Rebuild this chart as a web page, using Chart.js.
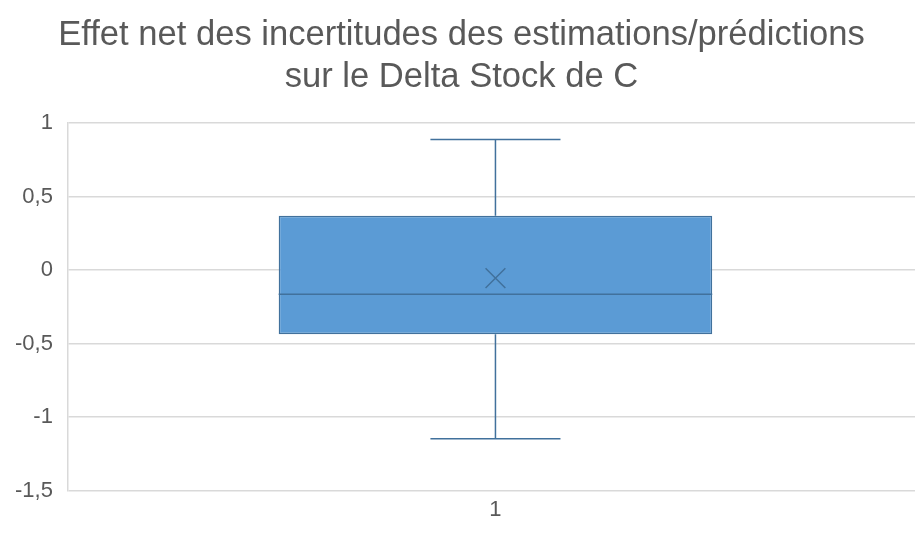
<!DOCTYPE html>
<html>
<head>
<meta charset="utf-8">
<script src="https://cdn.jsdelivr.net/npm/chart.js@4.4.1/dist/chart.umd.min.js"></script>
<style>
  html, body { margin: 0; padding: 0; background: #fff; overflow: hidden; }
  #wrap { width: 923px; height: 534px; }
</style>
</head>
<body>
<div id="wrap"><canvas id="chartBox"></canvas></div>
<script>
// box plot values
const categories = ['1'];
const whiskerMin = [-1.147];
const q1 = [-0.437];
const median = [-0.164];
const q3 = [0.369];
const whiskerMax = [0.887];
const mean = [-0.055];
const yTicks = [-1.5, -1, -0.5, 0, 0.5, 1];

const lineColor = '#41719C';
const boxFill = '#5B9BD5';

// whiskers behind the box, median on top of it
const boxExtras = {
  id: 'boxExtras',
  beforeDatasetsDraw(chart) {
    const { ctx, scales: { y } } = chart;
    const meta = chart.getDatasetMeta(1);
    ctx.save();
    ctx.strokeStyle = lineColor;
    ctx.lineWidth = 1.5;
    meta.data.forEach((bar, i) => {
      const cx = bar.x;
      const capHalf = bar.width * 0.15;
      const yMin = y.getPixelForValue(whiskerMin[i]);
      const yMax = y.getPixelForValue(whiskerMax[i]);
      ctx.beginPath();
      ctx.moveTo(cx, yMin); ctx.lineTo(cx, y.getPixelForValue(q1[i]));
      ctx.moveTo(cx, yMax); ctx.lineTo(cx, y.getPixelForValue(q3[i]));
      ctx.moveTo(cx - capHalf, yMin); ctx.lineTo(cx + capHalf, yMin);
      ctx.moveTo(cx - capHalf, yMax); ctx.lineTo(cx + capHalf, yMax);
      ctx.stroke();
    });
    ctx.restore();
  },
  afterDatasetDraw(chart, args) {
    if (args.index !== 1) return;
    const { ctx, scales: { y } } = chart;
    ctx.save();
    ctx.strokeStyle = lineColor;
    ctx.lineWidth = 1.5;
    args.meta.data.forEach((bar, i) => {
      const py = y.getPixelForValue(median[i]);
      ctx.beginPath();
      ctx.moveTo(bar.x - bar.width / 2, py);
      ctx.lineTo(bar.x + bar.width / 2, py);
      ctx.stroke();
    });
    ctx.restore();
  }
};

const fontFamily = "'Liberation Sans', Arial, sans-serif";

new Chart(document.getElementById('chartBox'), {
  type: 'bar',
  data: {
    labels: categories,
    datasets: [
      {
        type: 'line', label: 'Moyenne', data: mean, order: 0,
        showLine: false, pointStyle: 'crossRot', pointRadius: 14,
        pointBorderWidth: 1.5, borderColor: lineColor, backgroundColor: lineColor
      },
      {
        label: 'Delta Stock de C', order: 1,
        data: q1.map((v, i) => [v, q3[i]]),
        backgroundColor: boxFill, borderColor: lineColor, borderWidth: 1.5,
        borderSkipped: false, barPercentage: 0.507, categoryPercentage: 1
      }
    ]
  },
  options: {
    responsive: true, maintainAspectRatio: false, animation: false,
    layout: { autoPadding: false, padding: { left: 0, right: 0, top: 0, bottom: 5 } },
    plugins: {
      legend: { display: false },
      tooltip: { enabled: false },
      title: {
        display: true,
        text: ['Effet net des incertitudes des estimations/prédictions', 'sur le Delta Stock de C'],
        color: '#595959',
        font: { family: fontFamily, size: 34.6, weight: 'normal', lineHeight: 1.214 },
        padding: { top: 14, bottom: 25 }
      }
    },
    scales: {
      x: {
        grid: { display: false, drawTicks: false },
        border: { display: false },
        ticks: { color: '#595959', font: { family: fontFamily, size: 22 }, padding: 6 }
      },
      y: {
        min: yTicks[0], max: yTicks[yTicks.length - 1],
        afterBuildTicks: axis => { axis.ticks = yTicks.map(v => ({ value: v })); },
        grid: { color: '#D9D9D9', lineWidth: 1.5, drawTicks: false },
        border: { display: true, color: '#D9D9D9', width: 1.5 },
        ticks: {
          color: '#595959', padding: 15,
          font: { family: fontFamily, size: 22 },
          callback: v => String(v).replace('.', ',')
        }
      }
    }
  },
  plugins: [boxExtras]
});
</script>
</body>
</html>
